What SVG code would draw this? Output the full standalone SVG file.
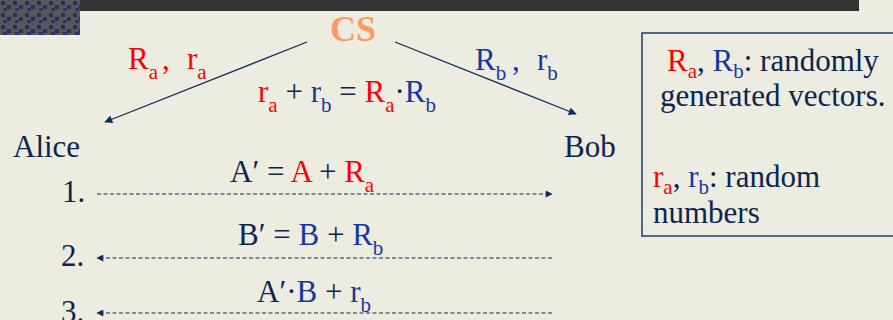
<svg xmlns="http://www.w3.org/2000/svg" width="893" height="320" viewBox="0 0 893 320">
<defs>
<style>
text{font-family:"Liberation Serif","Times New Roman",serif;fill:#0b2450;}
.t{font-size:31px;}
.cs{font-size:36px;font-weight:bold;fill:#ff9966;}
.r{fill:#ff0000;}
.b{fill:#1438a0;}
.sub{font-size:21px;}
.conn{stroke:#0f2d5c;stroke-width:1.3;fill:none;}
.dash{stroke:#0f2d5c;stroke-width:1.2;fill:none;stroke-dasharray:4 2.5;}
</style>
<marker id="ah" viewBox="0 0 10 10" refX="9" refY="5" markerWidth="10" markerHeight="8" markerUnits="userSpaceOnUse" orient="auto">
<path d="M0,0 L10,5 L0,10 z" fill="#0f2d5c"/>
</marker>
<marker id="ah2" viewBox="0 0 10 10" refX="9" refY="5" markerWidth="8" markerHeight="7" markerUnits="userSpaceOnUse" orient="auto">
<path d="M0,0 L10,5 L0,10 z" fill="#0f2d5c"/>
</marker>
<pattern id="chk" width="12" height="12" patternUnits="userSpaceOnUse">
<rect width="12" height="12" fill="#575757"/>
<rect x="1" y="1" width="4" height="4" fill="#27305e"/>
<rect x="7" y="5" width="4" height="4" fill="#27305e"/>
<rect x="3" y="8" width="4" height="3" fill="#2b3468"/>
</pattern>
</defs>
<rect width="893" height="320" fill="#edece0"/>
<rect x="0" y="0" width="80" height="35" fill="url(#chk)"/>
<rect x="80" y="0" width="779" height="11" fill="#333333"/>

<g id="connectors">
<line class="conn" x1="307" y1="42" x2="105" y2="122" marker-end="url(#ah)"/>
<line class="conn" x1="395" y1="42" x2="576" y2="114" marker-end="url(#ah)"/>
<line class="dash" x1="97" y1="194" x2="552" y2="194" marker-end="url(#ah2)"/>
<line class="dash" x1="552" y1="258" x2="97" y2="258" marker-end="url(#ah2)"/>
<line class="dash" x1="552" y1="313" x2="97" y2="313" marker-end="url(#ah2)"/>
</g>

<g id="cs"><text class="cs" x="353" y="41" text-anchor="middle">CS</text></g>
<g id="alice"><text class="t" x="13" y="157">Alice</text></g>
<g id="bob"><text class="t" x="564" y="157">Bob</text></g>

<g id="label-ra"><text class="t r" x="128" y="69">R<tspan class="sub" dy="10">a</tspan><tspan x="162" dy="-10">,</tspan><tspan x="187">r</tspan><tspan class="sub" dy="10">a</tspan></text></g>
<g id="label-rb"><text class="t b" x="475" y="70">R<tspan class="sub" dy="10">b</tspan><tspan x="512" dy="-10">,</tspan><tspan x="537">r</tspan><tspan class="sub" dy="10">b</tspan></text></g>
<g id="formula"><text class="t" x="258" y="102"><tspan class="r">r</tspan><tspan class="sub r" dy="10">a</tspan><tspan dy="-10"> + </tspan><tspan class="b">r</tspan><tspan class="sub b" dy="10">b</tspan><tspan dy="-10"> = </tspan><tspan class="r">R</tspan><tspan class="sub r" dy="10">a</tspan><tspan dy="-10">·</tspan><tspan class="b">R</tspan><tspan class="sub b" dy="10">b</tspan></text></g>

<g id="step1">
<text class="t" x="62" y="202">1.</text>
<text class="t" x="230" y="182">A′ = <tspan class="r">A</tspan> + <tspan class="r">R</tspan><tspan class="sub r" dy="10">a</tspan></text>
</g>
<g id="step2">
<text class="t" x="61" y="266">2.</text>
<text class="t" x="238" y="245">B′ = <tspan class="b">B</tspan> + <tspan class="b">R</tspan><tspan class="sub b" dy="10">b</tspan></text>
</g>
<g id="step3">
<text class="t" x="61" y="322">3.</text>
<text class="t" x="257" y="302">A′·<tspan class="b">B</tspan> + <tspan class="b">r</tspan><tspan class="sub b" dy="10">b</tspan></text>
</g>

<g id="legend">
<rect x="642" y="33" width="262" height="203" fill="none" stroke="#1f3a6b" stroke-width="1.5"/>
<text class="t" x="667" y="71"><tspan class="r">R</tspan><tspan class="sub r" dy="7">a</tspan><tspan dy="-7">, </tspan><tspan class="b">R</tspan><tspan class="sub b" dy="7">b</tspan><tspan dy="-7">: randomly</tspan></text>
<text class="t" x="660" y="106">generated vectors.</text>
<text class="t" x="653" y="187"><tspan class="r">r</tspan><tspan class="sub r" dy="7">a</tspan><tspan dy="-7">, </tspan><tspan class="b">r</tspan><tspan class="sub b" dy="7">b</tspan><tspan dy="-7">: random</tspan></text>
<text class="t" x="653" y="223">numbers</text>
</g>
</svg>
